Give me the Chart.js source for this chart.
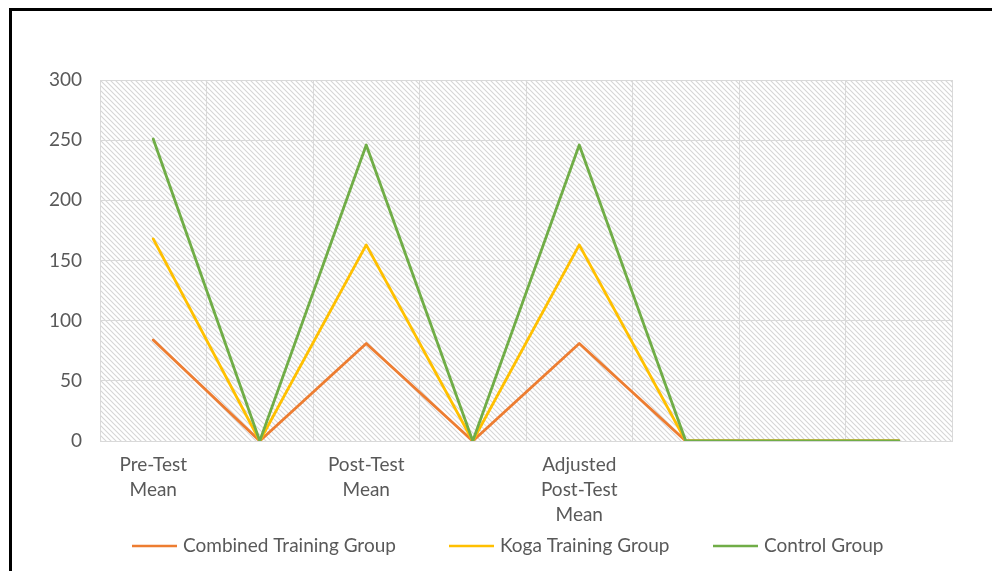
<!DOCTYPE html>
<html>
<head>
<meta charset="utf-8">
<script src="https://cdn.jsdelivr.net/npm/chart.js@4"></script>
<style>
  body { margin: 0; background: #fff; }
  #wrap { position: relative; width: 992px; height: 571px; }
  #frame {
    position: absolute; left: 9px; top: 8px; right: 0; bottom: 0;
    border-top: 3px solid #000; border-left: 3px solid #000;
    pointer-events: none;
  }
</style>
</head>
<body>
<div id="wrap">
  <canvas id="chart" width="992" height="571"></canvas>
  <div id="frame"></div>
</div>
<script>
// categories (blank ones are empty slots in the original sheet)
const categories = [
  ["Pre-Test", "Mean"], "", ["Post-Test", "Mean"], "",
  ["Adjusted", "Post-Test", "Mean"], "", "", ""
];
const combinedTraining = [84, 0, 81, 0, 81, 0, 0, 0];
const kogaTraining = [168, 0, 163, 0, 163, 0, 0, 0];
const controlGroup = [251, 0, 246, 0, 246, 0, 0, 0];
const yTicks = [0, 50, 100, 150, 200, 250, 300];

const FONT = "Lato, 'Open Sans', sans-serif";
const TEXT = "#595959";

// diagonal hatch used as plot background
function makeHatch(ctx) {
  const s = 5;
  const c = document.createElement("canvas");
  c.width = s; c.height = s;
  const g = c.getContext("2d");
  g.fillStyle = "#ffffff";
  g.fillRect(0, 0, s, s);
  g.strokeStyle = "#d6d6d6";
  g.lineWidth = 1.1;
  g.beginPath();
  g.moveTo(-1, -1); g.lineTo(s + 1, s + 1);
  g.moveTo(-1, s - 1); g.lineTo(1, s + 1);
  g.moveTo(s - 1, -1); g.lineTo(s + 1, 1);
  g.stroke();
  return ctx.createPattern(c, "repeat");
}

const hatchBg = {
  id: "hatchBg",
  beforeDraw(chart) {
    const { ctx, chartArea: a } = chart;
    ctx.save();
    ctx.fillStyle = makeHatch(ctx);
    ctx.fillRect(a.left, a.top, a.right - a.left, a.bottom - a.top);
    ctx.restore();
  }
};

// Excel style legend with short line samples
const lineLegend = {
  id: "lineLegend",
  afterDraw(chart) {
    const { ctx } = chart;
    const starts = [132, 449, 713];
    const y = 546;
    ctx.save();
    ctx.font = "19px " + FONT;
    ctx.textBaseline = "middle";
    chart.data.datasets.forEach((ds, i) => {
      const x = starts[i];
      ctx.strokeStyle = ds.borderColor;
      ctx.lineWidth = 2.5;
      ctx.beginPath();
      ctx.moveTo(x, y);
      ctx.lineTo(x + 45, y);
      ctx.stroke();
      ctx.fillStyle = TEXT;
      ctx.fillText(ds.label, x + 51, y);
    });
    ctx.restore();
  }
};

new Chart(document.getElementById("chart"), {
  type: "line",
  data: {
    labels: categories,
    datasets: [
      {
        label: "Combined Training Group",
        data: combinedTraining,
        borderColor: "#ED7D31",
        order: 2,
      },
      {
        label: "Koga Training Group",
        data: kogaTraining,
        borderColor: "#FFC000",
        order: 1,
      },
      {
        label: "Control Group",
        data: controlGroup,
        borderColor: "#70AD47",
        order: 0,
      },
    ],
  },
  options: {
    responsive: false,
    animation: false,
    layout: { padding: { left: 0, right: 40, top: 80, bottom: 0 } },
    elements: {
      line: { borderWidth: 2.8, tension: 0, borderCapStyle: "round", borderJoinStyle: "round" },
      point: { radius: 0, hoverRadius: 0 },
    },
    plugins: {
      legend: { display: false },
      tooltip: { enabled: false },
    },
    scales: {
      x: {
        offset: true,
        grid: { offset: true, color: "#d9d9d9", drawTicks: false },
        border: { color: "#d9d9d9" },
        ticks: {
          autoSkip: false,
          maxRotation: 0,
          padding: 12,
          color: TEXT,
          font: { family: FONT, size: 19, lineHeight: 1.3 },
        },
        afterFit(scale) { scale.height = 130; },
      },
      y: {
        min: 0,
        max: 300,
        afterBuildTicks(scale) { scale.ticks = yTicks.map((v) => ({ value: v })); },
        grid: { color: "#d9d9d9", drawTicks: false },
        border: { display: false },
        ticks: {
          padding: 18,
          color: TEXT,
          font: { family: FONT, size: 19 },
        },
        afterFit(scale) { scale.width = 100; },
      },
    },
  },
  plugins: [hatchBg, lineLegend],
});
</script>
</body>
</html>
